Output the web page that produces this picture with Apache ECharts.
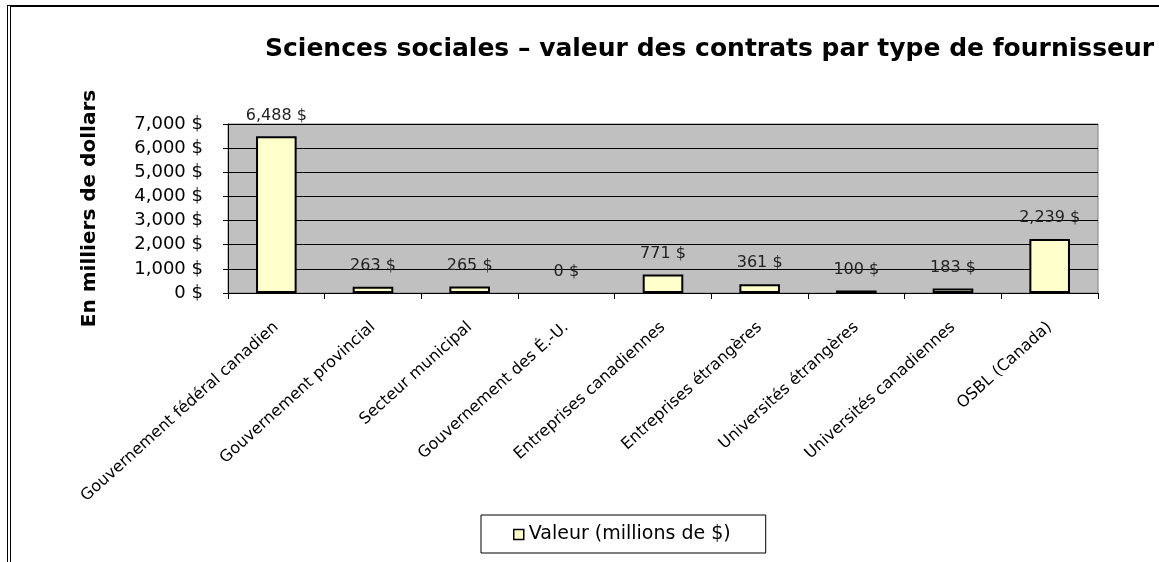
<!DOCTYPE html>
<html>
<head>
<meta charset="utf-8">
<script src="https://cdn.jsdelivr.net/npm/echarts@6/dist/echarts.min.js"></script>
<style>
  html, body { margin: 0; padding: 0; background: #fff; }
  #frame {
    position: absolute; left: 7px; top: 5px; width: 1200px; height: 600px;
    border-top: 2px solid #000; border-left: 4px double #000;
  }
  #chart { position: absolute; left: 0; top: 0; width: 1159px; height: 562px; }
</style>
</head>
<body>
<div id="frame"></div>
<div id="chart"></div>
<script>
  // catégories de fournisseurs
  const categories = [
    'Gouvernement fédéral canadien',
    'Gouvernement provincial',
    'Secteur municipal',
    'Gouvernement des É.-U.',
    'Entreprises canadiennes',
    'Entreprises étrangères',
    'Universités étrangères',
    'Universités canadiennes',
    'OSBL (Canada)'
  ]
  const values = [6488, 263, 265, 0, 771, 361, 100, 183, 2239]
  const seriesName = 'Valeur (millions de $)'

  const fmt = v => v.toLocaleString('en-US') + ' $'
  const font = 'DejaVu Sans, Liberation Sans, Arial, sans-serif'

  // pas de contour pour une barre nulle
  const barData = values.map(v => v === 0 ? { value: v, itemStyle: { borderWidth: 0 } } : v)

  const chart = echarts.init(document.getElementById('chart'))
  chart.setOption({
    animation: false,
    textStyle: { fontFamily: font },
    title: {
      text: 'Sciences sociales – valeur des contrats par type de fournisseur',
      left: 260,
      top: 32,
      textStyle: { fontSize: 25, fontWeight: 'bold', color: '#000', fontFamily: font }
    },
    legend: {
      data: [{ name: seriesName, icon: 'rect' }],
      left: 481,
      top: 515,
      padding: [10, 35, 9, 32],
      borderColor: '#000',
      borderWidth: 1,
      itemWidth: 10,
      itemHeight: 10,
      itemGap: 4,
      itemStyle: { borderColor: '#000', borderWidth: 1.5 },
      textStyle: { fontSize: 19, color: '#000', fontFamily: font }
    },
    grid: {
      left: 228,
      right: 61,
      top: 124,
      bottom: 269,
      show: true,
      backgroundColor: '#c0c0c0',
      borderColor: '#808080',
      borderWidth: 1
    },
    xAxis: {
      type: 'category',
      data: categories,
      axisLine: { lineStyle: { color: '#000', width: 1 } },
      axisTick: { show: true, length: 6, lineStyle: { color: '#000' } },
      axisLabel: {
        rotate: 42,
        interval: 0,
        margin: 32,
        fontSize: 16,
        color: '#000',
        fontFamily: font
      }
    },
    yAxis: {
      type: 'value',
      min: 0,
      max: 7000,
      interval: 1000,
      name: 'En milliers de dollars',
      nameLocation: 'middle',
      nameGap: 128,
      nameTextStyle: { fontSize: 20, fontWeight: 'bold', color: '#000', fontFamily: font },
      axisLine: { show: true, lineStyle: { color: '#000' } },
      axisTick: { show: true, length: 5, lineStyle: { color: '#000' } },
      axisLabel: {
        margin: 25,
        fontSize: 18,
        color: '#000',
        fontFamily: font,
        formatter: fmt
      },
      splitLine: { lineStyle: { color: '#000', width: 1 } }
    },
    series: [{
      name: seriesName,
      type: 'bar',
      data: barData,
      barWidth: '42%',
      itemStyle: { color: '#ffffcc', borderColor: '#000', borderWidth: 2 },
      label: {
        show: true,
        position: 'top',
        distance: 13,
        fontSize: 16,
        color: '#222',
        fontFamily: font,
        formatter: p => fmt(p.value)
      }
    }]
  })
</script>
</body>
</html>
